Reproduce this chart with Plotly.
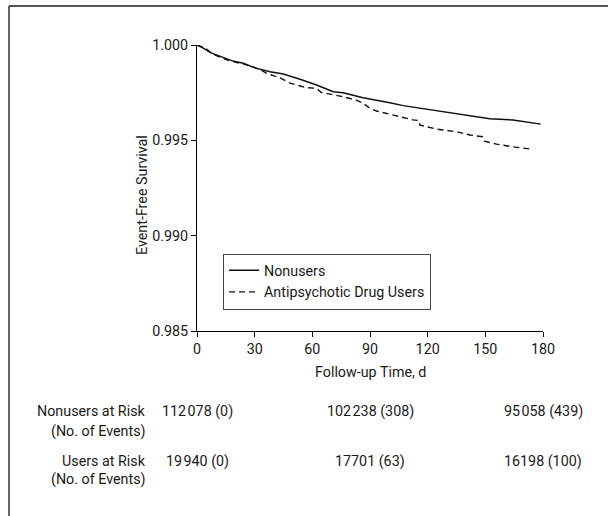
import plotly.graph_objects as go

# ---------------- data ----------------
nonusers_days = [0, 3, 7, 13.7, 18, 24.1, 30, 38, 44.9, 53.6, 62.2, 70.9, 76, 86.4, 90, 100.3,
                 107.3, 124.6, 135, 152.3, 164.4, 178.8]
nonusers_surv = [1.0, 0.99985, 0.99960, 0.99933, 0.99918, 0.99904, 0.99880, 0.99860, 0.99848,
                 0.99820, 0.99790, 0.99755, 0.99750, 0.99723, 0.99717, 0.99697,
                 0.99682, 0.99655, 0.99636, 0.99613, 0.99607, 0.99585]

users_days = [0, 4, 8, 12, 17, 22, 28, 33, 36, 40, 43, 48.4, 57, 62.2, 64.5, 74.4, 83, 86.5,
              90, 93.4, 98.6, 100.3, 112.4, 115.5, 116, 124.6, 135, 142, 148.5, 149.5, 155.8,
              164.4, 174.8]
users_surv = [1.0, 0.99985, 0.99955, 0.99935, 0.99918, 0.99905, 0.99890, 0.99870, 0.99852,
              0.99838, 0.99829, 0.99800, 0.99776, 0.99773, 0.99752, 0.99732, 0.99711, 0.99694,
              0.99668, 0.99654, 0.99642, 0.99636, 0.99607, 0.99604, 0.99580, 0.99559, 0.99545,
              0.99528, 0.99519, 0.99496, 0.99480, 0.99466, 0.99453]

series_names = ["Nonusers", "Antipsychotic Drug Users"]

x_ticks = [0, 30, 60, 90, 120, 150, 180]
y_ticks = [0.985, 0.990, 0.995, 1.000]
y_ticklabels = ["0.985", "0.990", "0.995", "1.000"]

risk_days = [0, 90, 180]
nonusers_at_risk = ["112\u200a078 (0)", "102\u200a238 (308)", "95\u200a058 (439)"]
users_at_risk = ["19\u200a940 (0)", "17701 (63)", "16198 (100)"]
risk_row_labels = [("Nonusers at Risk", "(No. of Events)"), ("Users at Risk", "(No. of Events)")]

# ---------------- layout helpers ----------------
W, H = 608, 516
L, R, T, B = 197, 65, 45, 185
PW, PH = W - L - R, H - T - B
FONT = "Roboto, Liberation Sans, sans-serif"
FS = 14.3
TXT = "#1a1a1a"


def px_x(p):
    return (p - L) / PW


def px_y(p):
    return (H - B - p) / PH


def tfont():
    return dict(family=FONT, size=FS, color=TXT)


fig = go.Figure()
fig.add_trace(go.Scatter(x=nonusers_days, y=nonusers_surv, mode="lines", name=series_names[0],
                         line=dict(color="#111111", width=1.5)))
fig.add_trace(go.Scatter(x=users_days, y=users_surv, mode="lines", name=series_names[1],
                         line=dict(color="#111111", width=1.4, dash="6px,4px")))

annotations = []
annotations.append(dict(text="Event-Free Survival", textangle=-90, xref="paper", yref="paper",
                        x=px_x(142), y=px_y(195), xanchor="center", yanchor="middle",
                        showarrow=False, font=tfont()))
annotations.append(dict(text="Follow-up Time, d", xref="paper", yref="paper",
                        x=0.5, y=px_y(372), xanchor="center", yanchor="middle",
                        showarrow=False, font=tfont()))

row_y = [(411, 431), (461, 480)]
for (lab1, lab2), (y1, y2), vals in zip(risk_row_labels, row_y, [nonusers_at_risk, users_at_risk]):
    annotations.append(dict(text=lab1, xref="paper", yref="paper", x=px_x(147.5), y=px_y(y1),
                            xanchor="right", yanchor="middle", showarrow=False, font=tfont()))
    annotations.append(dict(text=lab2, xref="paper", yref="paper", x=px_x(147.5), y=px_y(y2),
                            xanchor="right", yanchor="middle", showarrow=False, font=tfont()))
    for d, v in zip(risk_days, vals):
        annotations.append(dict(text=v, xref="x", yref="paper", x=d, y=px_y(y1),
                                xanchor="center", yanchor="middle", showarrow=False,
                                font=tfont()))

shapes = [
    dict(type="line", xref="paper", yref="paper", x0=px_x(9), x1=px_x(640), y0=px_y(6), y1=px_y(6),
         line=dict(color="#555555", width=2)),
    dict(type="line", xref="paper", yref="paper", x0=px_x(9), x1=px_x(9), y0=px_y(6), y1=px_y(560),
         line=dict(color="#333333", width=1.5)),
]

fig.update_layout(
    width=W, height=H,
    margin=dict(l=L, r=R, t=T, b=B),
    paper_bgcolor="white", plot_bgcolor="white",
    font=tfont(),
    showlegend=True,
    legend=dict(x=px_x(223), y=px_y(253.5), xanchor="left", yanchor="top",
                bgcolor="white", bordercolor="#444444", borderwidth=1,
                font=tfont(), tracegroupgap=0),
    annotations=annotations,
    shapes=shapes,
    xaxis=dict(range=[0, 180], tickvals=x_ticks, ticks="outside", ticklen=5, tickwidth=1,
               tickcolor="black", showline=True, linecolor="black", linewidth=1,
               showgrid=False, zeroline=False, automargin=False, tickfont=tfont()),
    yaxis=dict(range=[0.985, 1.0], tickvals=y_ticks, ticktext=y_ticklabels, ticks="outside",
               ticklen=5, tickwidth=1, tickcolor="black", showline=True, linecolor="black",
               linewidth=1, showgrid=False, zeroline=False, automargin=False, tickfont=tfont()),
)

fig.write_html("out.html", config={"displayModeBar": False},
               post_script="document.body.style.margin='0';document.body.style.overflow='hidden';")
